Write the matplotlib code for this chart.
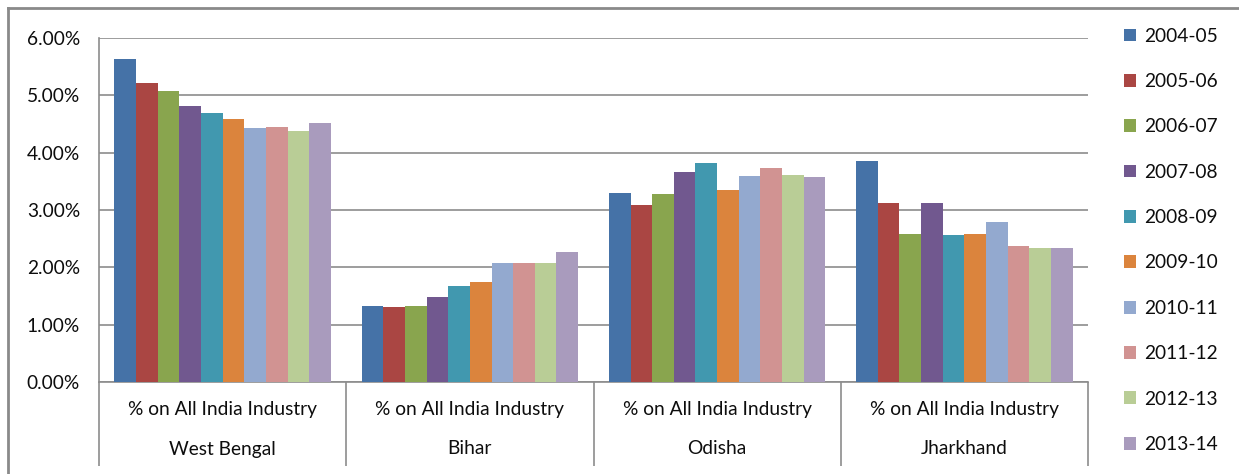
import numpy as np
import matplotlib
matplotlib.use('Agg')
import matplotlib.pyplot as plt
from matplotlib.lines import Line2D
from matplotlib.ticker import FuncFormatter

plt.rcParams['font.family'] = ['Lato', 'DejaVu Sans']

# Data (share of all-India industry, %)
states = ['West Bengal', 'Bihar', 'Odisha', 'Jharkhand']
inner_label = '% on All India Industry'
years = ['2004-05', '2005-06', '2006-07', '2007-08', '2008-09',
         '2009-10', '2010-11', '2011-12', '2012-13', '2013-14']

west_bengal = [5.64, 5.21, 5.08, 4.81, 4.70, 4.59, 4.43, 4.45, 4.38, 4.52]
bihar       = [1.33, 1.31, 1.33, 1.49, 1.67, 1.74, 2.07, 2.07, 2.07, 2.27]
odisha      = [3.30, 3.08, 3.28, 3.67, 3.82, 3.35, 3.59, 3.73, 3.61, 3.57]
jharkhand   = [3.86, 3.12, 2.59, 3.12, 2.56, 2.59, 2.79, 2.38, 2.34, 2.34]

colors = ['#4572A7', '#AA4643', '#89A54E', '#71588F', '#4198AF',
          '#DB843D', '#93A9CF', '#D19392', '#B9CD96', '#A99BBD']

values = np.array([west_bengal, bihar, odisha, jharkhand])  # state x year

W, H = 1239, 474
FS = 13.8
TXT = '#0d0d0d'
fig = plt.figure(figsize=(W / 100, H / 100), dpi=100)
ax = fig.add_axes([99 / W, (H - 382) / H, (1088 - 99) / W, (382 - 38) / H])

x = np.arange(len(states))
bw = 0.0875
for i, yr in enumerate(years):
    ax.bar(x + (i - 4.5) * bw, values[:, i], width=bw, color=colors[i],
           label=yr, zorder=3)

ax.set_xlim(-0.5, len(states) - 0.5)
ax.set_ylim(0, 6)
ax.set_yticks(np.arange(0, 7, 1))
ax.yaxis.set_major_formatter(FuncFormatter(lambda v, p: f'{v:.2f}%'))
ax.grid(axis='y', color='#8c8c8c', linewidth=1.2, zorder=0)
ax.tick_params(axis='y', length=0, pad=19 * 0.72, labelsize=FS, labelcolor=TXT)

# category axis: long ticks at group boundaries
ax.set_xticks(np.arange(-0.5, len(states), 1))
ax.set_xticklabels([])
ax.tick_params(axis='x', length=84 * 0.72, width=1.2, color='#8c8c8c', direction='out')

for s in ['top', 'right']:
    ax.spines[s].set_visible(False)
ax.spines['left'].set_color('#8c8c8c')
ax.spines['left'].set_linewidth(1.2)
ax.spines['bottom'].set_color('#8c8c8c')
ax.spines['bottom'].set_linewidth(1.2)

trans = ax.get_xaxis_transform()
for xi, st in zip(x, states):
    ax.text(xi, -(410 - 382) / 344, inner_label, transform=trans, ha='center',
            va='center', fontsize=FS, color=TXT)
    ax.text(xi, -(449 - 382) / 344, st, transform=trans, ha='center',
            va='center', fontsize=FS, color=TXT)

leg = fig.legend(loc='upper left', bbox_to_anchor=(1116 / W, 1 - 20 / H),
                 frameon=False, fontsize=FS, handlelength=0.65, handleheight=0.65,
                 handletextpad=0.4, labelspacing=1.48, borderaxespad=0)
for t in leg.get_texts():
    t.set_color(TXT)

# outer chart frame (left and top edges)
fig.add_artist(Line2D([8 / W, 8 / W], [0, 1 - 8 / H], transform=fig.transFigure,
                      color='#8a8a8a', linewidth=2))
fig.add_artist(Line2D([8 / W, 1], [1 - 8 / H, 1 - 8 / H], transform=fig.transFigure,
                      color='#8a8a8a', linewidth=2))

fig.savefig('out.png', dpi=100)
